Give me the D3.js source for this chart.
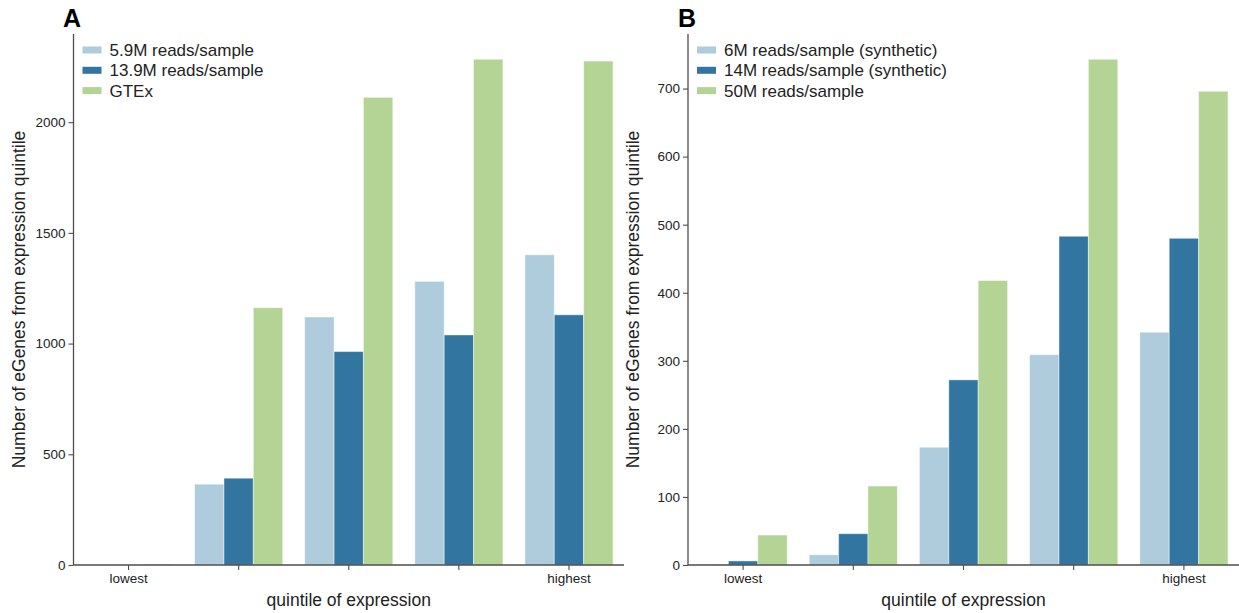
<!DOCTYPE html>
<html><head><meta charset="utf-8">
<script src="https://cdn.jsdelivr.net/npm/d3@7"></script>
<style>
body{margin:0;background:#fff;}
svg{display:block;font-family:"Liberation Sans",Arial,sans-serif;}
</style></head>
<body><svg id="c" width="1239" height="613"></svg>
<script>
const quintiles = ["lowest","2","3","4","highest"];
const tickLabelsX = ["lowest","","","","highest"];
const colors = ["#aeccdb","#3275a1","#b3d495"];

const seriesA = ["5.9M reads/sample","13.9M reads/sample","GTEx"];
const A_low = [0, 0, 4];
const A_q2  = [365, 392, 1162];
const A_q3  = [1120, 964, 2112];
const A_q4  = [1281, 1039, 2284];
const A_q5  = [1401, 1130, 2276];
const ticksA = [0, 500, 1000, 1500, 2000];

const seriesB = ["6M reads/sample (synthetic)","14M reads/sample (synthetic)","50M reads/sample"];
const B_low = [1, 6, 44];
const B_q2  = [15, 46, 116];
const B_q3  = [173, 272, 418];
const B_q4  = [309, 483, 743];
const B_q5  = [342, 480, 696];
const ticksB = [0, 100, 200, 300, 400, 500, 600, 700];

const svg = d3.select("#c");

function panel(opts){
  const {x0, x1, y0, y1, rows, series, ticks, letter, letterX} = opts;
  const g = svg.append("g");
  const maxV = d3.max(rows.flat());
  const x = d3.scaleBand().domain(quintiles).range([x0, x1]).paddingInner(0).paddingOuter(0);
  const bw = x.bandwidth()*0.8/series.length;
  const y = d3.scaleLinear().domain([0, maxV*1.05]).range([y0, y1]);

  quintiles.forEach((q, qi) => {
    rows[qi].forEach((v, si) => {
      const left = x(q) + x.bandwidth()*0.1 + si*bw;
      g.append("rect")
        .attr("x", left).attr("width", bw)
        .attr("y", y(v)).attr("height", y0 - y(v))
        .attr("fill", colors[si])
        .attr("stroke", "#ffffff").attr("stroke-opacity", 0.45).attr("stroke-width", 1);
    });
  });

  const axCol = "#4d4d4d";
  const tf = '"Liberation Sans",Arial,sans-serif';
  // y axis
  const ya = d3.axisLeft(y).tickValues(ticks).tickSize(5).tickPadding(3).tickFormat(d3.format("d"));
  const yg = g.append("g").attr("transform", `translate(${x0},0)`).call(ya);
  yg.select(".domain").attr("stroke", axCol).attr("stroke-width", 1.3).attr("d", `M0,${y0}V${y1}`);
  yg.selectAll(".tick line").attr("stroke", axCol).attr("stroke-width", 1.1);
  yg.selectAll(".tick text").attr("fill", "#222").style("font-size", "13.5px").style("font-family", tf);
  // x axis
  const xa = d3.axisBottom(x).tickSize(5).tickPadding(3).tickFormat((d,i)=>tickLabelsX[i]);
  const xg = g.append("g").attr("transform", `translate(0,${y0})`).call(xa);
  xg.select(".domain").attr("stroke", axCol).attr("stroke-width", 1.3).attr("d", `M${x0},0H${x1}`);
  xg.selectAll(".tick line").attr("stroke", axCol).attr("stroke-width", 1.1);
  xg.selectAll(".tick text").attr("fill", "#222").style("font-size", "13.5px").style("font-family", tf);

  // labels
  g.append("text").attr("x", (x0+x1)/2).attr("y", 606).attr("text-anchor","middle")
    .attr("fill","#222").style("font-size","17.5px").text("quintile of expression");
  g.append("text").attr("transform", `translate(${x0-49},${(y0+y1)/2}) rotate(-90)`)
    .attr("text-anchor","middle").attr("fill","#222").style("font-size","17.5px")
    .text("Number of eGenes from expression quintile");
  g.append("text").attr("x", letterX).attr("y", 27).attr("fill","#000")
    .style("font-size","25px").style("font-weight","bold").text(letter);

  // legend
  series.forEach((s, i) => {
    const ly = 50 + i*20.3;
    g.append("rect").attr("x", x0+9).attr("y", ly-3.5).attr("width", 19).attr("height", 7).attr("fill", colors[i]);
    g.append("text").attr("x", x0+36).attr("y", ly).attr("dy","0.35em")
      .attr("fill","#222").style("font-size","17px").text(s);
  });
}

panel({x0:73.5, x1:624, y0:565, y1:34, rows:[A_low,A_q2,A_q3,A_q4,A_q5], series:seriesA, ticks:ticksA, letter:"A", letterX:63});
panel({x0:688, x1:1239, y0:565, y1:34, rows:[B_low,B_q2,B_q3,B_q4,B_q5], series:seriesB, ticks:ticksB, letter:"B", letterX:678});
</script></body></html>
